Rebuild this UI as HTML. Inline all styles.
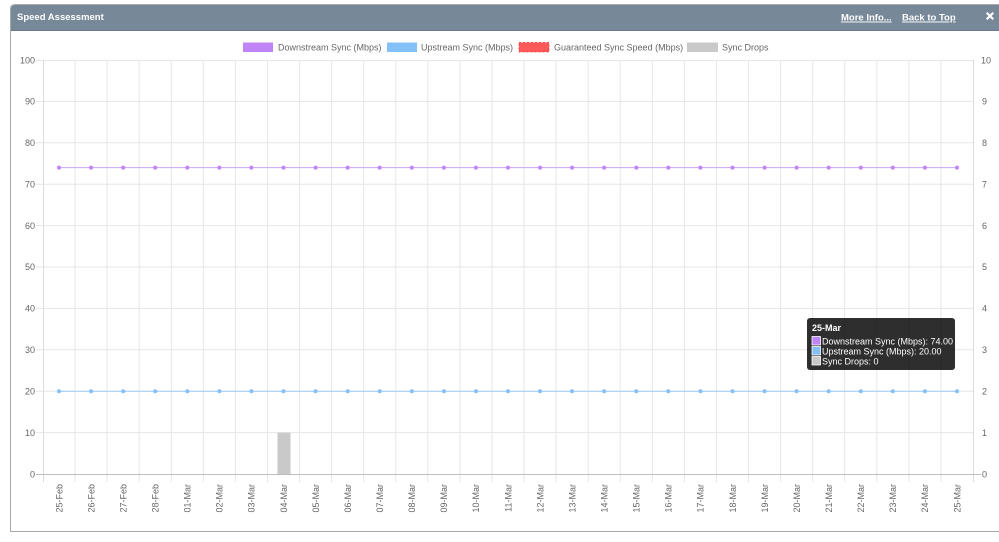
<!DOCTYPE html>
<html><head><meta charset="utf-8">
<style>
html,body{margin:0;padding:0;background:#fff;width:999px;height:542px;overflow:hidden}
svg{display:block;font-family:"Liberation Sans",Arial,sans-serif}
</style></head><body>
<svg width="999" height="542" viewBox="0 0 999 542" xmlns="http://www.w3.org/2000/svg">
<defs>
<marker id="mp" markerUnits="userSpaceOnUse" markerWidth="6" markerHeight="6" refX="3" refY="3"><circle cx="3" cy="3" r="2" fill="#c084f8"/></marker>
<marker id="mb" markerUnits="userSpaceOnUse" markerWidth="6" markerHeight="6" refX="3" refY="3"><circle cx="3" cy="3" r="2" fill="#84c0f8"/></marker>
</defs>
<!-- panel -->
<path d="M10.5,531.5 V9 Q10.5,4.5 15,4.5 H1003 V531.5 Z" fill="#fff" stroke="#a8a8a8" stroke-width="1"/>
<path d="M11,30 V9 Q11,5 15,5 H999 V30 Z" fill="#778899"/>
<line x1="11" y1="30.5" x2="999" y2="30.5" stroke="#6a7a8a" stroke-width="1"/>
<text x="17" y="20" font-size="9.5" font-weight="bold" fill="#fff">Speed Assessment</text>
<text x="841" y="20.5" font-size="9.5" font-weight="bold" fill="#fff" text-decoration="underline">More Info...</text>
<text x="902" y="20.5" font-size="9.5" font-weight="bold" fill="#fff" text-decoration="underline">Back to Top</text>
<g stroke="#fff" stroke-width="2.2" stroke-linecap="square"><line x1="987.5" y1="13.5" x2="992.5" y2="18.5"/><line x1="992.5" y1="13.5" x2="987.5" y2="18.5"/></g>

<!-- legend -->
<g font-size="9" fill="#666">
<rect x="243" y="42.5" width="30" height="9.5" fill="#c084f8"/>
<text x="278" y="50.5">Downstream Sync (Mbps)</text>
<rect x="387" y="42.5" width="30" height="9.5" fill="#84c0f8"/>
<text x="421" y="50.5">Upstream Sync (Mbps)</text>
<rect x="519" y="42.5" width="30" height="9.5" fill="#ff5a5a" stroke="#ff3030" stroke-width="0.8" stroke-dasharray="2,2"/>
<text x="554" y="50.5">Guaranteed Sync Speed (Mbps)</text>
<rect x="687" y="42.5" width="31" height="9.5" fill="#c9c9c9"/>
<text x="722" y="50.5">Sync Drops</text>
</g>

<!-- grid -->
<g stroke="#e6e6e6" stroke-width="1" fill="none">
<path d="M36,60.5H973M36,101.4H973M36,142.8H973M36,184.2H973M36,225.6H973M36,267H973M36,308.4H973M36,349.8H973M36,391.2H973M36,432.6H973"/>
<path d="M75.1,60V482M107.1,60V482M139.2,60V482M171.3,60V482M203.3,60V482M235.4,60V482M267.5,60V482M299.6,60V482M331.6,60V482M363.7,60V482M395.8,60V482M427.8,60V482M459.9,60V482M492,60V482M524,60V482M556.1,60V482M588.2,60V482M620.2,60V482M652.3,60V482M684.4,60V482M716.5,60V482M748.5,60V482M780.6,60V482M812.7,60V482M844.7,60V482M876.8,60V482M908.9,60V482M940.9,60V482"/>
</g>
<line x1="43.5" y1="60" x2="43.5" y2="482" stroke="#dcdcdc"/>
<line x1="973.5" y1="60" x2="973.5" y2="482" stroke="#dcdcdc"/>
<line x1="36" y1="474.5" x2="981" y2="474.5" stroke="#bdbdbd"/>

<!-- left axis labels -->
<g font-size="9" fill="#666" text-anchor="end">
<text x="35" y="63.5">100</text>
<text x="35" y="104.5">90</text>
<text x="35" y="146">80</text>
<text x="35" y="187.5">70</text>
<text x="35" y="229">60</text>
<text x="35" y="270">50</text>
<text x="35" y="311.5">40</text>
<text x="35" y="353">30</text>
<text x="35" y="394.5">20</text>
<text x="35" y="436">10</text>
<text x="35" y="477.5">0</text>
</g>
<!-- right axis labels -->
<g font-size="9" fill="#666">
<text x="981" y="63.5">10</text>
<text x="982" y="104.5">9</text>
<text x="982" y="146">8</text>
<text x="982" y="187.5">7</text>
<text x="982" y="229">6</text>
<text x="982" y="270">5</text>
<text x="982" y="311.5">4</text>
<text x="982" y="353">3</text>
<text x="982" y="394.5">2</text>
<text x="982" y="436">1</text>
<text x="982" y="477.5">0</text>
</g>

<!-- bar -->
<rect x="277.5" y="432.6" width="13" height="41.4" fill="#c9c9c9"/>

<!-- lines -->
<polyline fill="none" stroke="#c9a4f6" stroke-width="1" marker-start="url(#mp)" marker-mid="url(#mp)" marker-end="url(#mp)"
points="59,167.6 91.1,167.6 123.2,167.6 155.2,167.6 187.3,167.6 219.4,167.6 251.4,167.6 283.5,167.6 315.6,167.6 347.7,167.6 379.7,167.6 411.8,167.6 443.9,167.6 475.9,167.6 508,167.6 540.1,167.6 572.1,167.6 604.2,167.6 636.3,167.6 668.3,167.6 700.4,167.6 732.5,167.6 764.6,167.6 796.6,167.6 828.7,167.6 860.8,167.6 892.8,167.6 924.9,167.6 957,167.6"/>
<polyline fill="none" stroke="#9ccbf6" stroke-width="1" marker-start="url(#mb)" marker-mid="url(#mb)" marker-end="url(#mb)"
points="59,391.2 91.1,391.2 123.2,391.2 155.2,391.2 187.3,391.2 219.4,391.2 251.4,391.2 283.5,391.2 315.6,391.2 347.7,391.2 379.7,391.2 411.8,391.2 443.9,391.2 475.9,391.2 508,391.2 540.1,391.2 572.1,391.2 604.2,391.2 636.3,391.2 668.3,391.2 700.4,391.2 732.5,391.2 764.6,391.2 796.6,391.2 828.7,391.2 860.8,391.2 892.8,391.2 924.9,391.2 957,391.2"/>

<!-- x labels -->
<g font-size="9" fill="#666" text-anchor="end">
<text transform="translate(62.3,484) rotate(-90)">25-Feb</text>
<text transform="translate(94.4,484) rotate(-90)">26-Feb</text>
<text transform="translate(126.5,484) rotate(-90)">27-Feb</text>
<text transform="translate(158.5,484) rotate(-90)">28-Feb</text>
<text transform="translate(190.6,484) rotate(-90)">01-Mar</text>
<text transform="translate(222.7,484) rotate(-90)">02-Mar</text>
<text transform="translate(254.7,484) rotate(-90)">03-Mar</text>
<text transform="translate(286.8,484) rotate(-90)">04-Mar</text>
<text transform="translate(318.9,484) rotate(-90)">05-Mar</text>
<text transform="translate(351,484) rotate(-90)">06-Mar</text>
<text transform="translate(383,484) rotate(-90)">07-Mar</text>
<text transform="translate(415.1,484) rotate(-90)">08-Mar</text>
<text transform="translate(447.2,484) rotate(-90)">09-Mar</text>
<text transform="translate(479.2,484) rotate(-90)">10-Mar</text>
<text transform="translate(511.3,484) rotate(-90)">11-Mar</text>
<text transform="translate(543.4,484) rotate(-90)">12-Mar</text>
<text transform="translate(575.4,484) rotate(-90)">13-Mar</text>
<text transform="translate(607.5,484) rotate(-90)">14-Mar</text>
<text transform="translate(639.6,484) rotate(-90)">15-Mar</text>
<text transform="translate(671.6,484) rotate(-90)">16-Mar</text>
<text transform="translate(703.7,484) rotate(-90)">17-Mar</text>
<text transform="translate(735.8,484) rotate(-90)">18-Mar</text>
<text transform="translate(767.9,484) rotate(-90)">19-Mar</text>
<text transform="translate(799.9,484) rotate(-90)">20-Mar</text>
<text transform="translate(832,484) rotate(-90)">21-Mar</text>
<text transform="translate(864.1,484) rotate(-90)">22-Mar</text>
<text transform="translate(896.1,484) rotate(-90)">23-Mar</text>
<text transform="translate(928.2,484) rotate(-90)">24-Mar</text>
<text transform="translate(960.3,484) rotate(-90)">25-Mar</text>
</g>

<!-- tooltip -->
<rect x="807" y="318" width="148" height="52" rx="3" fill="rgba(0,0,0,0.82)"/>
<text x="812" y="331" font-size="9" font-weight="bold" fill="#fff">25-Mar</text>
<rect x="812" y="336.5" width="8.5" height="8.5" fill="#c084f8" stroke="#fff" stroke-width="0.8"/>
<rect x="812" y="346.5" width="8.5" height="8.5" fill="#84c0f8" stroke="#fff" stroke-width="0.8"/>
<rect x="812" y="356.5" width="8.5" height="8.5" fill="#c9c9c9" stroke="#fff" stroke-width="0.8"/>
<g font-size="9" fill="#fff">
<text x="822" y="344.5">Downstream Sync (Mbps): 74.00</text>
<text x="822" y="354.5">Upstream Sync (Mbps): 20.00</text>
<text x="822" y="364.5">Sync Drops: 0</text>
</g>
</svg>
</body></html>
